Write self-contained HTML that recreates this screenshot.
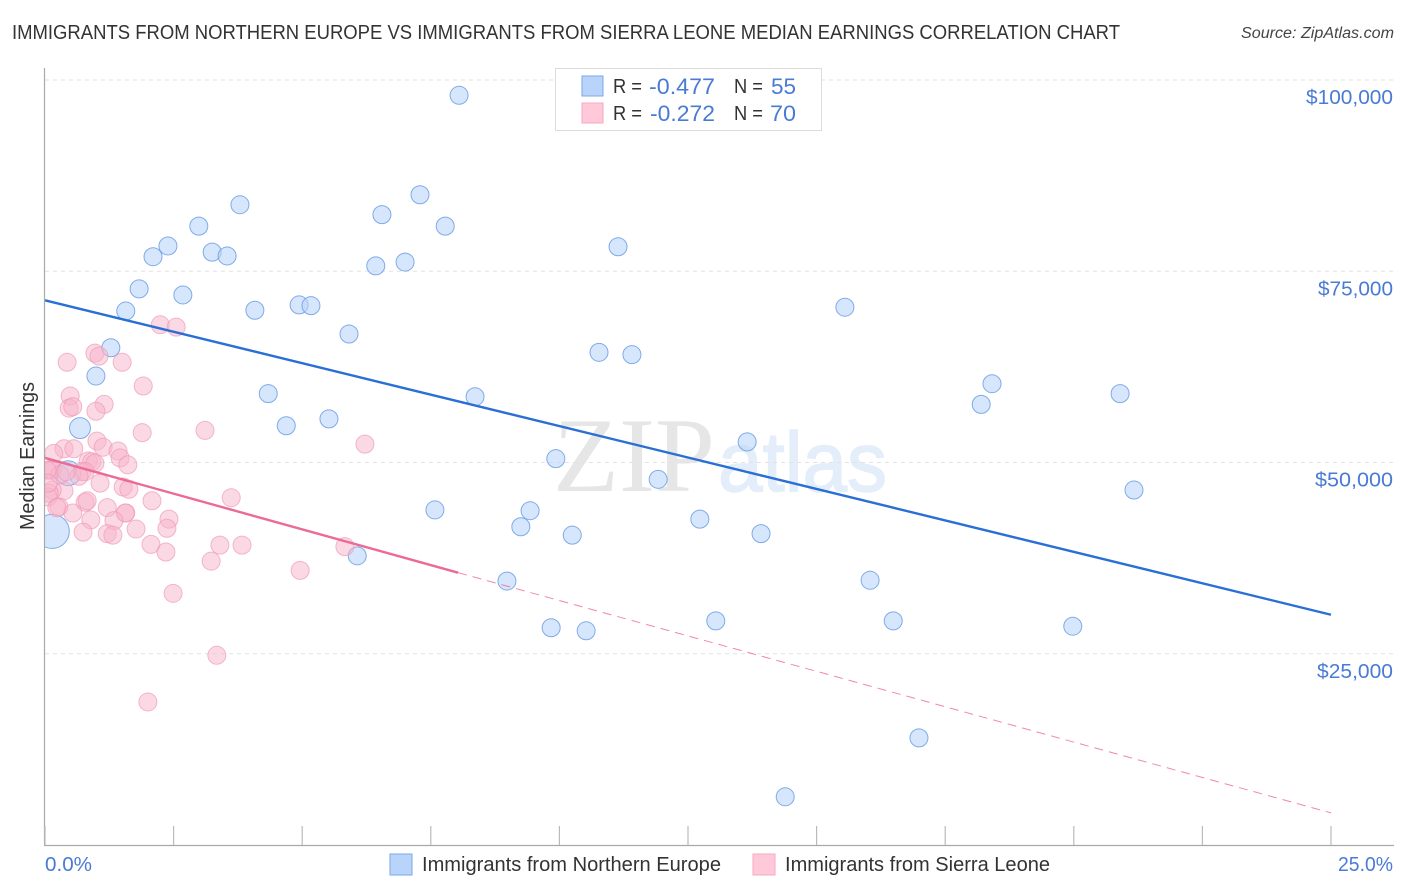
<!DOCTYPE html>
<html lang="en">
<head>
<meta charset="utf-8">
<title>Immigrants from Northern Europe vs Immigrants from Sierra Leone Median Earnings Correlation Chart</title>
<style>
html,body{margin:0;padding:0;background:#fff;width:1406px;height:892px;overflow:hidden}
svg{display:block;font-family:"Liberation Sans",sans-serif}
</style>
</head>
<body>
<svg id="chart" xmlns="http://www.w3.org/2000/svg" width="1406" height="892" viewBox="0 0 1406 892">
  <defs><clipPath id="plot-clip"><rect x="45" y="60" width="1350" height="785"/></clipPath></defs>
  <rect width="1406" height="892" fill="#fff"/>
  <text x="12" y="39" font-size="20" fill="#333" textLength="1108" lengthAdjust="spacingAndGlyphs">IMMIGRANTS FROM NORTHERN EUROPE VS IMMIGRANTS FROM SIERRA LEONE MEDIAN EARNINGS CORRELATION CHART</text>
  <text x="1241" y="38" font-size="15.5" font-style="italic" fill="#444" textLength="153" lengthAdjust="spacingAndGlyphs">Source: ZipAtlas.com</text>
  <g>
    <text x="553" y="491" font-family="'Liberation Serif',serif" font-size="106" fill="#e6e6e6" textLength="162" lengthAdjust="spacingAndGlyphs">ZIP</text>
    <text x="718" y="491" font-family="'Liberation Sans',sans-serif" font-size="84" fill="#e4edfa" stroke="#e4edfa" stroke-width="1.5" textLength="169" lengthAdjust="spacingAndGlyphs">atlas</text>
  </g>
  <g id="grid"></g>
  <g id="blue-points" clip-path="url(#plot-clip)"></g>
  <g id="pink-points" clip-path="url(#plot-clip)"></g>
  <g id="trends"></g>
  <g id="axes"></g>
  <text transform="translate(34,456) rotate(-90)" text-anchor="middle" font-size="20" fill="#333" textLength="148" lengthAdjust="spacingAndGlyphs">Median Earnings</text>

  <g>
    <rect x="555.5" y="68.5" width="266" height="62" fill="#fff" stroke="#dcdcdc"/>
    <rect x="582" y="76" width="21" height="20" fill="#b9d4fa" stroke="#7aa7e8"/>
    <rect x="582" y="103" width="21" height="20" fill="#ffc9d9" stroke="#f5a9c2"/>
    <g font-size="20.5" fill="#333">
      <text x="613" y="93" textLength="29" lengthAdjust="spacingAndGlyphs">R =</text>
      <text x="734" y="93" textLength="29" lengthAdjust="spacingAndGlyphs">N =</text>
      <text x="613" y="120" textLength="29" lengthAdjust="spacingAndGlyphs">R =</text>
      <text x="734" y="120" textLength="29" lengthAdjust="spacingAndGlyphs">N =</text>
    </g>
    <g font-size="22" fill="#4a7bd4">
      <text x="649" y="94" textLength="66" lengthAdjust="spacingAndGlyphs">-0.477</text>
      <text x="771" y="94" textLength="25" lengthAdjust="spacingAndGlyphs">55</text>
      <text x="650" y="121" textLength="65" lengthAdjust="spacingAndGlyphs">-0.272</text>
      <text x="770" y="121" textLength="26" lengthAdjust="spacingAndGlyphs">70</text>
    </g>
  </g>

  <g>
    <rect x="390" y="854" width="22" height="21" fill="#b9d4fa" stroke="#7aa7e8"/>
    <text x="422" y="871" font-size="20" fill="#333" textLength="299" lengthAdjust="spacingAndGlyphs">Immigrants from Northern Europe</text>
    <rect x="753" y="854" width="22" height="21" fill="#ffc9d9" stroke="#f5a9c2"/>
    <text x="785" y="871" font-size="20" fill="#333" textLength="265" lengthAdjust="spacingAndGlyphs">Immigrants from Sierra Leone</text>
  </g>
</svg>
<script>
const yTicks = [100000, 75000, 50000, 25000];
const yTickLabels = ["$100,000", "$75,000", "$50,000", "$25,000"];
const xTicks = [0, 2.5, 5, 7.5, 10, 12.5, 15, 17.5, 20, 22.5, 25];
const xEndLabels = ["0.0%", "25.0%"];

const blueX = [8.05,3.79,7.29,6.55,7.78,2.99,2.39,2.10,3.25,3.54,11.14,6.43,7.00,2.68,1.83,1.57,4.08,4.94,5.17,5.91,15.55,1.28,0.99,10.77,11.41,18.41,18.20,20.90,4.34,8.36,0.68,4.69,5.52,13.65,9.93,11.92,21.17,0.45,7.58,9.43,9.25,12.73,10.25,13.92,0.14,6.07,8.98,16.04,13.04,16.49,19.98,9.84,10.52,16.99,14.39];
const blueY = [98.0,83.7,85.0,82.4,80.9,80.9,78.3,76.9,77.5,77.0,78.2,75.7,76.2,71.9,72.7,69.8,69.9,70.6,70.5,66.8,70.3,65.0,61.3,64.4,64.1,60.3,57.6,59.0,59.0,58.6,54.5,54.8,55.7,52.7,50.5,47.8,46.4,48.6,43.8,43.7,41.6,42.6,40.5,40.7,41.0,37.8,34.5,34.6,29.3,29.3,28.6,28.4,28.0,14.0,6.3];
const blueWeight = [1,1,1,1,1,1,1,1,1,1,1,1,1,1,1,1,1,1,1,1,1,1,1,1,1,1,1,1,1,1,1.35,1,1,1,1,1,1,1.9,1,1,1,1,1,1,3.6,1,1,1,1,1,1,1,1,1,1];

const pinkX = [2.24,2.55,0.97,1.05,1.50,0.43,1.91,0.49,1.15,0.47,0.54,0.99,3.11,1.89,6.22,1.01,1.13,0.37,1.42,0.17,0.56,0.84,0.91,0.97,1.46,1.61,0.10,0.14,0.72,0.78,1.07,0.66,1.52,1.63,2.08,3.62,0.37,0.14,0.06,0.08,0.27,0.78,0.82,1.21,1.57,1.56,0.54,0.89,2.41,1.34,0.74,1.21,1.32,1.77,2.37,2.06,3.40,3.83,2.35,5.83,3.23,4.96,2.49,3.34,2.00,0.29,0.23,0.04,0.41,0.06];
const pinkY = [68.0,67.7,64.3,63.9,63.1,63.1,60.0,58.7,57.6,57.1,57.3,56.7,54.2,53.9,52.4,52.8,52.0,51.8,51.5,51.2,51.8,50.2,50.1,49.9,50.6,49.7,49.0,49.0,48.8,48.8,47.3,48.2,46.8,46.5,45.0,45.4,46.3,46.4,45.5,46.0,44.2,44.8,45.0,44.1,43.4,43.4,43.4,42.5,42.6,42.4,40.9,40.7,40.5,41.3,41.4,39.3,39.2,39.2,38.3,39.0,37.1,35.9,32.9,24.8,18.7,48.4,44.1,49.0,48.8,47.3];

const blueTrendX = [0, 25];
const blueTrendY = [71.2, 30.1];
const pinkSolidX = [0, 8.03];
const pinkSolidY = [50.6, 35.6];
const pinkDashX = [8.03, 25];
const pinkDashY = [35.6, 4.2];

const NS = "http://www.w3.org/2000/svg";
const xScale = v => 45 + v * (1286 / 25);
const yScale = v => 845 - v * (765 / 100);
const rScale = w => 9 * Math.sqrt(w);

function make(parent, tag, attrs) {
  const el = document.createElementNS(NS, tag);
  for (const k in attrs) el.setAttribute(k, attrs[k]);
  parent.appendChild(el);
  return el;
}

const grid = document.getElementById("grid");
const axes = document.getElementById("axes");
const yLabelWidths = {"$100,000": 87, "$75,000": 75, "$50,000": 78, "$25,000": 76};
yTicks.forEach((t, i) => {
  const y = yScale(t / 1000);
  const line = make(grid, "line", {x1: 45, x2: 1394, y1: y, y2: y, stroke: "#e2e2e2", "stroke-width": 1, "stroke-dasharray": "4 4"});
  
  
  const label = make(axes, "text", {x: 1393 - yLabelWidths[yTickLabels[i]], y: y + 24, "font-size": 20.5, fill: "#4a7bd4", textLength: yLabelWidths[yTickLabels[i]], lengthAdjust: "spacingAndGlyphs"});
  label.textContent = yTickLabels[i];
  
  
});

const yAxis = make(axes, "line", {x1: 44.5, x2: 44.5, y1: 68, y2: 845.5, stroke: "#aaa", "stroke-width": 1.2});


const xAxis = make(axes, "line", {x1: 44, x2: 1394, y1: 845.5, y2: 845.5, stroke: "#aaa", "stroke-width": 1.2});


xTicks.forEach(t => {
  const x = xScale(t);
  const tick = make(axes, "line", {x1: x, x2: x, y1: 826, y2: 845, stroke: "#bbb", "stroke-width": 1.2});
  
  
});
const xLeft = make(axes, "text", {x: 45, y: 871, "font-size": 20, fill: "#4a7bd4", textLength: 47, lengthAdjust: "spacingAndGlyphs"});
xLeft.textContent = xEndLabels[0];


const xRight = make(axes, "text", {x: 1338, y: 871, "font-size": 20, fill: "#4a7bd4", textLength: 55, lengthAdjust: "spacingAndGlyphs"});
xRight.textContent = xEndLabels[1];



const blueGroup = document.getElementById("blue-points");
blueX.forEach((v, i) => {
  const c = make(blueGroup, "circle", {cx: xScale(v), cy: yScale(blueY[i]), r: rScale(blueWeight[i]), fill: "#b9d4fa", "fill-opacity": 0.58, stroke: "#6c9fe3", "stroke-width": 1, "stroke-opacity": 0.85});
  
  
});
const pinkGroup = document.getElementById("pink-points");
pinkX.forEach((v, i) => {
  const c = make(pinkGroup, "circle", {cx: xScale(v), cy: yScale(pinkY[i]), r: 9, fill: "#f7b4ca", "fill-opacity": 0.5, stroke: "#ef9ab7", "stroke-width": 1, "stroke-opacity": 0.7});
  
  
});

const trends = document.getElementById("trends");
const blueLine = make(trends, "line", {x1: xScale(blueTrendX[0]), y1: yScale(blueTrendY[0]), x2: xScale(blueTrendX[1]), y2: yScale(blueTrendY[1]), stroke: "#2a6fd6", "stroke-width": 2.4});


const pinkLine = make(trends, "line", {x1: xScale(pinkSolidX[0]), y1: yScale(pinkSolidY[0]), x2: xScale(pinkSolidX[1]), y2: yScale(pinkSolidY[1]), stroke: "#ec6a97", "stroke-width": 2.4});


const pinkDash = make(trends, "line", {x1: xScale(pinkDashX[0]), y1: yScale(pinkDashY[0]), x2: xScale(pinkDashX[1]), y2: yScale(pinkDashY[1]), stroke: "#ec6a97", "stroke-width": 1, "stroke-dasharray": "9 6", "stroke-opacity": 0.8});


</script>
</body>
</html>
